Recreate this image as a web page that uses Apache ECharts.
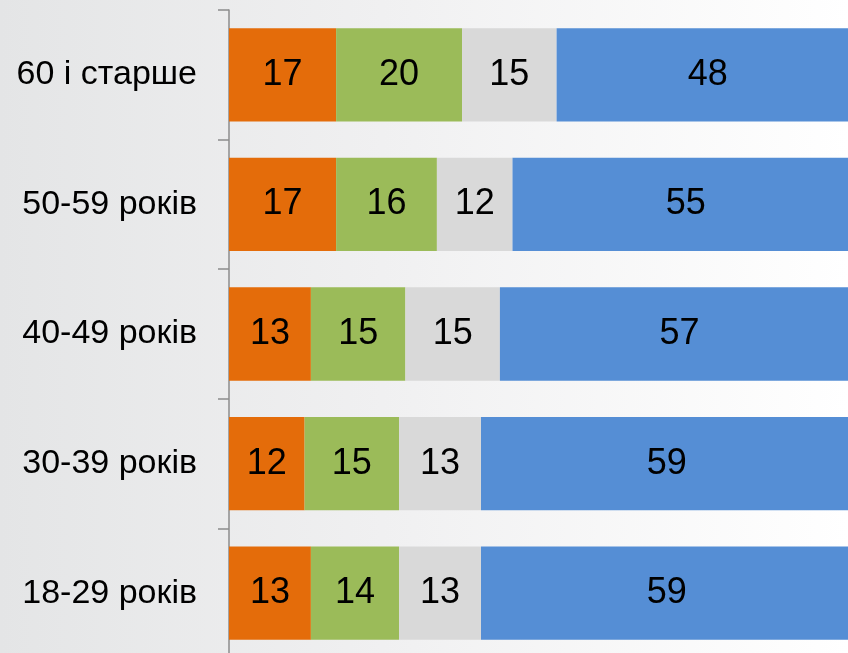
<!DOCTYPE html>
<html><head><meta charset="utf-8">
<script src="https://cdn.jsdelivr.net/npm/echarts@6/dist/echarts.min.js"></script>
<style>html,body{margin:0;padding:0;}#c{width:848px;height:653px;background:linear-gradient(to right,#e4e5e6 0%,#f0f0f1 45%,#ffffff 100%);}</style>
</head><body><div id="c"></div>
<script>
const categories = ['18-29 років','30-39 років','40-49 років','50-59 років','60 і старше'];
const seriesA = [13,12,13,17,17];
const seriesB = [14,15,15,16,20];
const seriesC = [13,13,15,12,15];
const seriesD = [59,59,57,55,48];
const colors = ['#E46C0A','#9BBB59','#D9D9D9','#558ED5'];
const names = ['A','B','C','D'];
const chart = echarts.init(document.getElementById('c'), null, {renderer:'canvas'});
const lbl = {show:true, position:'inside', color:'#000', fontSize:36, fontFamily:'Liberation Sans, Arial, sans-serif'};
chart.setOption({
  backgroundColor:'transparent',
  animation:false,
  grid:{left:229, right:-11, top:10, bottom:-5, containLabel:false, outerBoundsMode:'none'},
  xAxis:{type:'value', min:0, max:100, show:false},
  yAxis:{type:'category', data:categories,
    axisLine:{show:true, lineStyle:{color:'#8c8c8c', width:1.5}},
    axisTick:{show:true, length:11, lineStyle:{color:'#8c8c8c', width:1.5}},
    axisLabel:{color:'#000', fontSize:34, fontFamily:'Liberation Sans, Arial, sans-serif', margin:32}},
  series:[seriesA,seriesB,seriesC,seriesD].map((d,i)=>({
    type:'bar', name:names[i], stack:'s', data:d, barCategoryGap:'28%',
    itemStyle:{color:colors[i]}, label:lbl
  }))
});
</script></body></html>
